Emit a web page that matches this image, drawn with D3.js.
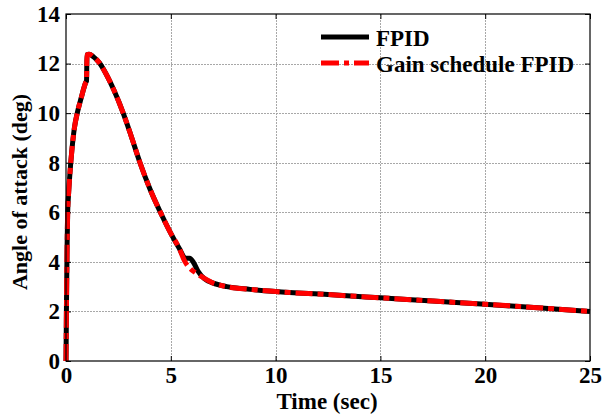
<!DOCTYPE html>
<html>
<head>
<meta charset="utf-8">
<script src="https://cdn.jsdelivr.net/npm/d3@7"></script>
<style>
  html, body { margin: 0; padding: 0; background: #fff; }
  svg { display: block; }
  text { font-family: "Liberation Serif", "Times New Roman", serif; font-weight: bold; fill: #000; }
</style>
</head>
<body>
<svg id="chart" width="603" height="419"></svg>
<script>
// Angle of attack response, time in seconds
const timeFPID  = [0, 0.02, 0.05, 0.08, 0.12, 0.19, 0.28, 0.4, 0.55, 0.72, 0.95, 0.98, 1.0, 1.1, 1.3, 1.6, 1.9, 2.3, 2.73, 3.1, 3.53, 4.0, 4.56, 5.0, 5.4, 5.7, 5.9, 6.1, 6.3, 6.6, 7.0, 7.67, 8.78, 10, 12.5, 15, 17.5, 20, 22.5, 25];
const alphaFPID = [0, 2.0, 4.5, 6.0, 6.7, 7.6, 8.5, 9.4, 10.05, 10.6, 11.25, 11.3, 12.35, 12.38, 12.28, 12.02, 11.6, 10.9, 10.0, 9.1, 8.0, 6.95, 5.9, 5.15, 4.55, 4.15, 4.15, 3.95, 3.62, 3.32, 3.15, 3.0, 2.89, 2.8, 2.68, 2.55, 2.42, 2.29, 2.15, 2.0];

const timeGS  = [0, 0.02, 0.05, 0.08, 0.12, 0.19, 0.28, 0.4, 0.55, 0.72, 0.95, 0.98, 1.0, 1.1, 1.3, 1.6, 1.9, 2.3, 2.73, 3.1, 3.53, 4.0, 4.56, 5.0, 5.4, 5.68, 5.9, 6.2, 6.47, 7.0, 7.67, 8.78, 10, 12.5, 15, 17.5, 20, 22.5, 25];
const alphaGS = [0, 2.0, 4.5, 6.0, 6.7, 7.6, 8.5, 9.4, 10.05, 10.6, 11.25, 11.3, 12.35, 12.38, 12.28, 12.02, 11.6, 10.9, 10.0, 9.1, 8.0, 6.95, 5.9, 5.15, 4.55, 4.0, 3.75, 3.55, 3.4, 3.15, 3.0, 2.89, 2.8, 2.68, 2.55, 2.42, 2.29, 2.15, 2.0];

const xTicks = [0, 5, 10, 15, 20, 25];
const yTicks = [0, 2, 4, 6, 8, 10, 12, 14];
const seriesNames = ["FPID", "Gain schedule FPID"];

const svg = d3.select("#chart");
const plotL = 66, plotR = 590, plotT = 14, plotB = 361;

const x = d3.scaleLinear().domain([0, 25]).range([plotL, plotR]);
const y = d3.scaleLinear().domain([0, 14]).range([plotB, plotT]);

// grid
const grid = svg.append("g").attr("stroke", "#a8a8a8").attr("stroke-width", 1).attr("stroke-dasharray", "2,1");
grid.selectAll(".gx").data(xTicks.slice(1, -1)).join("line")
  .attr("x1", d => Math.round(x(d)) + 0.5).attr("x2", d => Math.round(x(d)) + 0.5)
  .attr("y1", plotT).attr("y2", plotB);
grid.selectAll(".gy").data(yTicks.slice(1, -1)).join("line")
  .attr("y1", d => Math.round(y(d)) + 0.5).attr("y2", d => Math.round(y(d)) + 0.5)
  .attr("x1", plotL).attr("x2", plotR);

// axes with inward ticks on all sides
const fmt = d3.format("d");
const axB = svg.append("g").attr("transform", `translate(0,${plotB})`)
  .call(d3.axisBottom(x).tickValues(xTicks).tickSize(-5).tickPadding(6).tickFormat(fmt));
const axT = svg.append("g").attr("transform", `translate(0,${plotT})`)
  .call(d3.axisTop(x).tickValues(xTicks).tickSize(-5).tickFormat(""));
const axL = svg.append("g").attr("transform", `translate(${plotL},0)`)
  .call(d3.axisLeft(y).tickValues(yTicks).tickSize(-5).tickPadding(6).tickFormat(fmt));
const axR = svg.append("g").attr("transform", `translate(${plotR},0)`)
  .call(d3.axisRight(y).tickValues(yTicks).tickSize(-5).tickFormat(""));
[axB, axT, axL, axR].forEach(a => {
  a.select(".domain").remove();
  a.selectAll("line").attr("stroke", "#000");
  a.selectAll("text").attr("font-family", "Liberation Serif").attr("font-weight", "bold").attr("font-size", 23).attr("fill", "#000");
});

// curves
const line = d3.line().x(d => x(d[0])).y(d => y(d[1])).curve(d3.curveMonotoneX);
const dataFPID = timeFPID.map((t, i) => [t, alphaFPID[i]]);
const dataGS = timeGS.map((t, i) => [t, alphaGS[i]]);

svg.append("path").datum(dataFPID).attr("d", line)
  .attr("fill", "none").attr("stroke", "#000").attr("stroke-width", 5).attr("stroke-linejoin", "round");
svg.append("path").datum(dataGS).attr("d", line)
  .attr("fill", "none").attr("stroke", "#ff0000").attr("stroke-width", 5)
  .attr("stroke-dasharray", "17,5,6,5").attr("stroke-linejoin", "round");

// frame
svg.append("rect").attr("x", plotL).attr("y", plotT).attr("width", plotR - plotL).attr("height", plotB - plotT)
  .attr("fill", "none").attr("stroke", "#000").attr("stroke-width", 1.2);

// legend
const lg = svg.append("g");
const legendRows = [
  { name: seriesNames[0], color: "#000", dash: null, y: 37 },
  { name: seriesNames[1], color: "#ff0000", dash: "18,5,5,5", y: 63 }
];
legendRows.forEach(r => {
  lg.append("line").attr("x1", 321).attr("x2", 369).attr("y1", r.y).attr("y2", r.y)
    .attr("stroke", r.color).attr("stroke-width", 5).attr("stroke-dasharray", r.dash);
  lg.append("text").attr("x", 376).attr("y", r.y + 9).attr("font-size", 23).text(r.name);
});

// axis titles
svg.append("text").attr("x", 327).attr("y", 409).attr("text-anchor", "middle")
  .attr("font-size", 23).text("Time (sec)");
svg.append("text").attr("transform", `translate(27,192) rotate(-90)`)
  .attr("text-anchor", "middle").attr("font-size", 22).text("Angle of attack (deg)");
</script>
</body>
</html>
